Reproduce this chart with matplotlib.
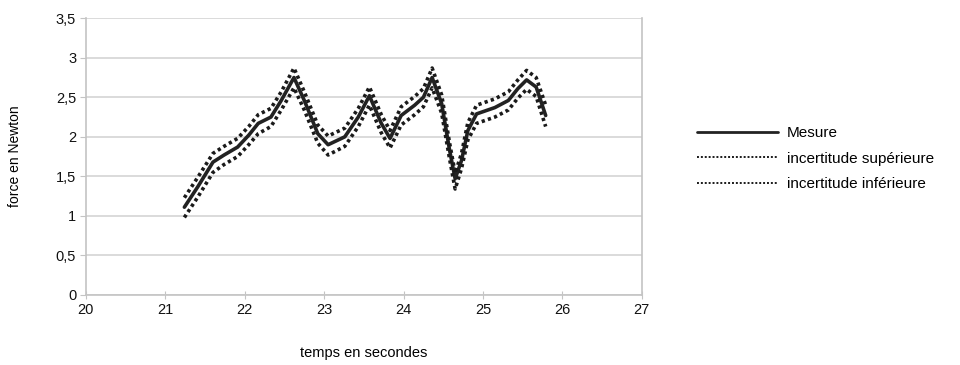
import matplotlib
matplotlib.use("Agg")
import matplotlib.pyplot as plt

plt.rcParams['font.family'] = ['Liberation Sans', 'DejaVu Sans']

# temps (s) et forces (N)
temps = [21.24, 21.41, 21.60, 21.74, 21.91, 22.05, 22.17, 22.33, 22.46, 22.62,
         22.75, 22.92, 23.05, 23.26, 23.43, 23.57, 23.72, 23.83, 23.97, 24.14,
         24.25, 24.36, 24.48, 24.58, 24.65, 24.73, 24.81, 24.92, 25.15, 25.32,
         25.44, 25.55, 25.67, 25.79]
mesure = [1.11, 1.37, 1.68, 1.77, 1.87, 2.02, 2.17, 2.25, 2.46, 2.75,
          2.46, 2.04, 1.90, 2.00, 2.25, 2.52, 2.17, 1.98, 2.27, 2.40,
          2.50, 2.75, 2.42, 1.83, 1.47, 1.70, 2.08, 2.29, 2.37, 2.46,
          2.61, 2.72, 2.63, 2.27]
sup = [1.23, 1.49, 1.79, 1.88, 1.98, 2.13, 2.28, 2.36, 2.57, 2.87,
       2.57, 2.15, 2.01, 2.11, 2.36, 2.63, 2.28, 2.08, 2.38, 2.51,
       2.61, 2.87, 2.53, 1.92, 1.54, 1.79, 2.18, 2.40, 2.48, 2.57,
       2.72, 2.84, 2.75, 2.40]
inf = [0.98, 1.24, 1.55, 1.65, 1.75, 1.90, 2.04, 2.13, 2.34, 2.62,
       2.34, 1.92, 1.77, 1.88, 2.13, 2.40, 2.05, 1.86, 2.15, 2.28,
       2.38, 2.62, 2.30, 1.72, 1.34, 1.60, 1.96, 2.17, 2.25, 2.34,
       2.49, 2.60, 2.51, 2.13]

yticks = [0, 0.5, 1, 1.5, 2, 2.5, 3, 3.5]
ytick_labels = ['0', '0,5', '1', '1,5', '2', '2,5', '3', '3,5']
xticks = [20, 21, 22, 23, 24, 25, 26, 27]

fig = plt.figure(figsize=(9.6, 3.65), dpi=100)
ax = fig.add_axes([0.0895, 0.192, 0.5790, 0.758])

dots = (0, (0.9, 0.9))
ax.plot(temps, mesure, color='#222222', lw=2.6, solid_joinstyle='round',
        solid_capstyle='round', label='Mesure')
ax.plot(temps, sup, color='#1a1a1a', lw=2.6, linestyle=dots,
        dash_capstyle='butt', label='incertitude supérieure')
ax.plot(temps, inf, color='#1a1a1a', lw=2.6, linestyle=dots,
        dash_capstyle='butt', label='incertitude inférieure')

ax.set_xlim(20, 27)
ax.set_ylim(0, 3.5)
ax.set_xticks(xticks)
ax.set_yticks(yticks)
ax.set_yticklabels(ytick_labels)
ax.yaxis.grid(True, color='#d4d4d4', lw=1.2)
ax.set_axisbelow(True)

for s in ['left', 'right', 'bottom']:
    ax.spines[s].set_color('#c4c4c4')
    ax.spines[s].set_linewidth(1.2)
ax.spines['top'].set_visible(False)

ax.tick_params(axis='x', direction='inout', length=6, color='#c4c4c4',
               labelsize=10.5, pad=3, labelcolor='#111111')
ax.tick_params(axis='y', direction='out', length=4, color='#c4c4c4',
               labelsize=10.5, pad=3, labelcolor='#111111')

ax.set_xlabel('temps en secondes', fontsize=10.5, labelpad=21)
ax.set_ylabel('force en Newton', fontsize=10, labelpad=24)

leg = fig.legend(loc='upper left', bbox_to_anchor=(0.718, 0.675), frameon=False,
                 fontsize=11, handlelength=5.3, handletextpad=0.6,
                 labelspacing=0.75, borderpad=0)
for i, line in enumerate(leg.get_lines()):
    if i == 0:
        line.set_linewidth(2)
    else:
        line.set_linewidth(1.4)
        line.set_linestyle((0, (1, 1)))

fig.savefig('out.png', dpi=100)
